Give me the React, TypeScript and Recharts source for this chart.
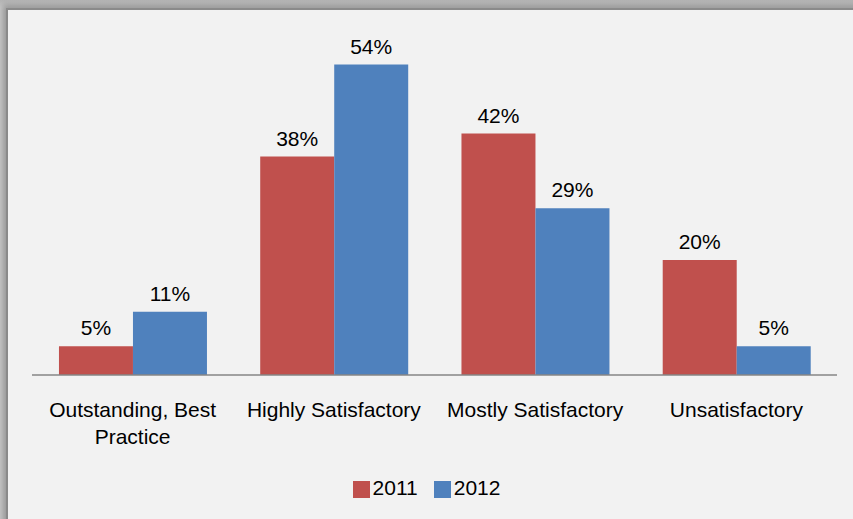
import { Bar, BarChart, LabelList, Legend, XAxis, YAxis } from "recharts";

const categories = [
  "Outstanding, Best Practice",
  "Highly Satisfactory",
  "Mostly Satisfactory",
  "Unsatisfactory",
];
const values2011 = [5, 38, 42, 20];
const values2012 = [11, 54, 29, 5];

const data = categories.map((name, i) => ({
  name,
  y2011: values2011[i],
  y2012: values2012[i],
}));

const FONT = "'Liberation Sans', Arial, sans-serif";
const FONT_SIZE = 21;
const TICK_WIDTH = 190;

let ctx: CanvasRenderingContext2D | null = null;
function measure(s: string) {
  if (!ctx) ctx = document.createElement("canvas").getContext("2d");
  if (!ctx) return s.length * FONT_SIZE * 0.5;
  ctx.font = `${FONT_SIZE}px ${FONT}`;
  return ctx.measureText(s).width;
}

// word wrap for long category names
function wrap(text: string) {
  const lines: string[] = [];
  let cur = "";
  for (const w of text.split(" ")) {
    const next = cur ? cur + " " + w : w;
    if (cur && measure(next) > TICK_WIDTH) {
      lines.push(cur);
      cur = w;
    } else cur = next;
  }
  if (cur) lines.push(cur);
  return lines;
}

function CategoryTick(props: any) {
  const { x, y, payload } = props;
  const lines = wrap(String(payload.value));
  return (
    <text
      x={x}
      y={y}
      textAnchor="middle"
      fontSize={FONT_SIZE}
      fontFamily={FONT}
      fill="#000"
    >
      {lines.map((l, i) => (
        <tspan key={i} x={x} dy={i === 0 ? 15 : 27}>
          {l}
        </tspan>
      ))}
    </text>
  );
}

export default function App() {
  return (
    <div
      style={{
        position: "absolute",
        left: 0,
        top: 0,
        width: 853,
        height: 519,
        overflow: "hidden",
        background: "linear-gradient(#b4b4b4, #c8c8c8 8px)",
      }}
    >
      <div
        style={{
          position: "absolute",
          left: 6,
          top: 8,
          width: 900,
          height: 600,
          border: "2px solid #8a8a8a",
          background: "#f2f2f2",
          boxShadow: "0 0 6px 3px rgba(0,0,0,0.25)",
        }}
      />
      <div style={{ position: "absolute", left: 0, top: 0 }}>
        <BarChart
          width={853}
          height={519}
          data={data}
          margin={{ top: 30, right: 16, left: 32, bottom: 20 }}
          barCategoryGap="13.4%"
          barGap={0}
        >
          <XAxis
            dataKey="name"
            height={100}
            tickLine={false}
            tickSize={0}
            tickMargin={27}
            stroke="#868686"
            strokeWidth={1.5}
            tick={(p: any) => <CategoryTick {...p} />}
            interval={0}
          />
          <YAxis hide domain={[0, 60]} />
          <Legend
            iconType="square"
            iconSize={17}
            wrapperStyle={{ fontSize: FONT_SIZE, fontFamily: FONT, top: 476 }}
            formatter={(value: string) => (
              <span style={{ color: "#000", marginLeft: -1, marginRight: 6 }}>
                {value}
              </span>
            )}
          />
          <Bar dataKey="y2011" name="2011" fill="#c0504d" isAnimationActive={false}>
            <LabelList
              dataKey="y2011"
              position="top"
              offset={11}
              formatter={(v: any) => `${v}%`}
              style={{ fontSize: FONT_SIZE, fontFamily: FONT, fill: "#000" }}
            />
          </Bar>
          <Bar dataKey="y2012" name="2012" fill="#4f81bd" isAnimationActive={false}>
            <LabelList
              dataKey="y2012"
              position="top"
              offset={11}
              formatter={(v: any) => `${v}%`}
              style={{ fontSize: FONT_SIZE, fontFamily: FONT, fill: "#000" }}
            />
          </Bar>
        </BarChart>
      </div>
    </div>
  );
}
